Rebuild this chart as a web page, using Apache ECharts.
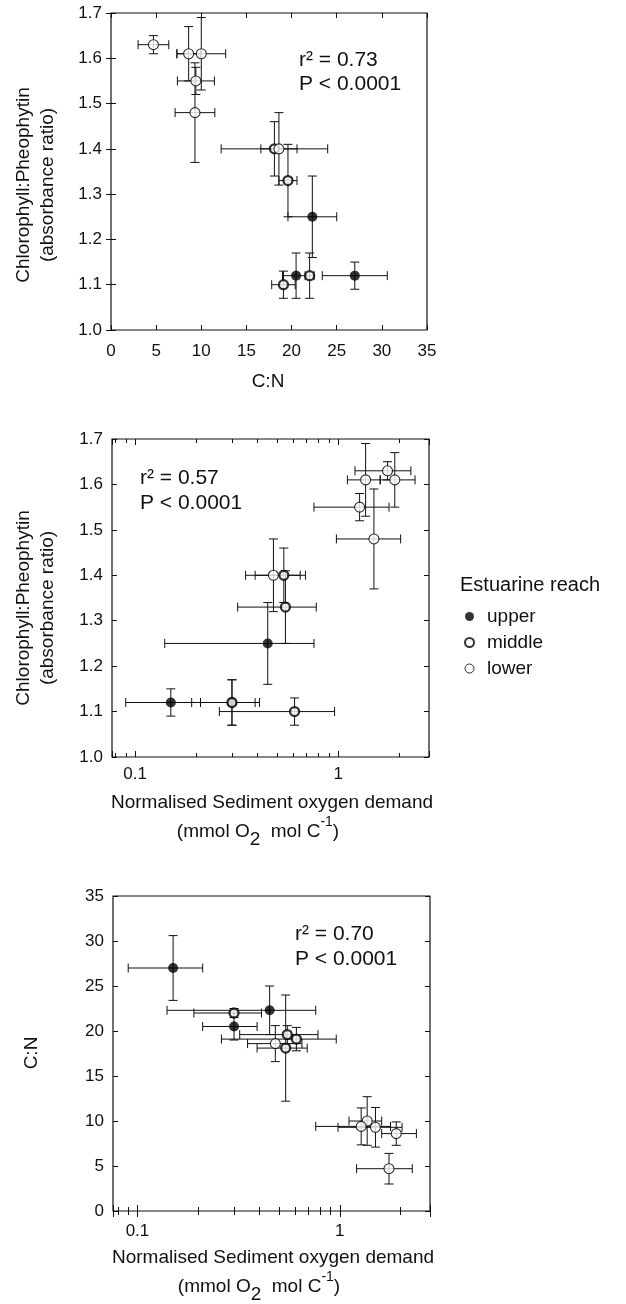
<!DOCTYPE html>
<html>
<head>
<meta charset="utf-8">
<script src="https://cdn.jsdelivr.net/npm/echarts@6/dist/echarts.min.js"></script>
<style>
html,body{margin:0;padding:0;background:#fff;}
#chart{width:626px;height:1304px;}
</style>
</head>
<body>
<div id="chart"></div>
<script>
// ---- data (one entry per sampling site) ----
const reach  = ['lower','lower','lower','lower','lower','middle','lower','middle','upper','upper','middle','upper','middle'];
const cn     = [4.7, 8.6, 10.0, 9.4, 9.3, 18.1, 18.6, 19.6, 22.3, 20.5, 22.0, 27.0, 19.1];
const cnErr  = [1.7, 1.3, 2.7, 2.05, 2.2, 5.9, 2.0, 1.0, 2.7, 1.5, 0.5, 3.6, 1.3];
const chl    = [1.63, 1.61, 1.61, 1.55, 1.48, 1.40, 1.40, 1.33, 1.25, 1.12, 1.12, 1.12, 1.10];
const chlErr = [0.02, 0.06, 0.08, 0.03, 0.11, 0.06, 0.08, 0.08, 0.09, 0.05, 0.05, 0.03, 0.03];
const sod    = [1.75, 1.90, 1.365, 1.275, 1.50, 0.54, 0.48, 0.55, 0.45, 0.30, 0.30, 0.15, 0.61];
const sodLo  = [1.21, 1.61, 1.11, 0.76, 0.98, 0.39, 0.35, 0.32, 0.14, 0.21, 0.19, 0.09, 0.26];
const sodHi  = [2.28, 2.39, 1.61, 1.78, 2.03, 0.69, 0.65, 0.78, 0.76, 0.39, 0.41, 0.21, 0.96];
const reaches = ['upper','middle','lower'];
const stats = [['r\u00B2 = 0.73','P < 0.0001'],['r\u00B2 = 0.57','P < 0.0001'],['r\u00B2 = 0.70','P < 0.0001']];
const chlRange = [1.0, 1.7, 0.1];
const cnRange = [0, 35, 5];
const sodRange = [0.077, 2.8];

const FF = '"Liberation Sans", Arial, Helvetica, sans-serif';
const INK = '#111';

// ---- build per-panel rows: [x, y, xLo, xHi, yLo, yHi] ----
function rows(px, py) {
  return reach.map((r, i) => {
    const p = px(i), q = py(i);
    return {reach: r, v: [p[0], q[0], p[1], p[2], q[1], q[2]]};
  });
}
const fCN  = i => [cn[i], cn[i]-cnErr[i], cn[i]+cnErr[i]];
const fCHL = i => [chl[i], chl[i]-chlErr[i], chl[i]+chlErr[i]];
const fSOD = i => [sod[i], sodLo[i], sodHi[i]];
const panels = [rows(fCN, fCHL), rows(fSOD, fCHL), rows(fSOD, fCN)];

const grids = [
  {left:111, top:13,  width:316, height:317},
  {left:112, top:439, width:317, height:318},
  {left:113, top:896, width:317, height:315}
];

function linAxis(gi, pos, range, showLabel, margin, fmt) {
  return {
    type:'value', gridIndex:gi, position:pos, min:range[0], max:range[1], interval:range[2],
    axisLine:{show:false}, splitLine:{show:false},
    axisTick:{show:true, inside:true, length:5, lineStyle:{color:INK, width:1}},
    axisLabel:{show:showLabel, margin:margin, color:INK, fontSize:17, fontFamily:FF, formatter:fmt}
  };
}
function logAxis(gi, pos, range, showLabel, margin) {
  return {
    type:'log', logBase:10, gridIndex:gi, position:pos, min:range[0], max:range[1],
    axisLine:{show:false}, splitLine:{show:false},
    axisTick:{show:true, inside:true, length:6, lineStyle:{color:INK, width:1}},
    minorTick:{show:true, splitNumber:9, length:4, lineStyle:{color:INK, width:1}},
    axisLabel:{show:showLabel, margin:margin, color:INK, fontSize:17, fontFamily:FF,
      showMinLabel:false, showMaxLabel:false}
  };
}
const fmt1 = v => v.toFixed(1);
const fmt0 = v => String(v);

const xAxis = [
  linAxis(0,'bottom',cnRange,true,13,fmt0), linAxis(0,'top',cnRange,false,8,fmt0),
  logAxis(1,'bottom',sodRange,true,9), logAxis(1,'top',sodRange,false,8),
  logAxis(2,'bottom',[0.0757,2.79],true,12), logAxis(2,'top',[0.0757,2.79],false,8)
];
const yAxis = [
  linAxis(0,'left',chlRange,true,9,fmt1), linAxis(0,'right',chlRange,false,8,fmt1),
  linAxis(1,'left',chlRange,true,9,fmt1), linAxis(1,'right',chlRange,false,8,fmt1),
  linAxis(2,'left',cnRange,true,9,fmt0), linAxis(2,'right',cnRange,false,8,fmt0)
];

function errRender(params, api) {
  const x = api.value(0), y = api.value(1);
  const c = api.coord([x, y]);
  const xl = api.coord([api.value(2), y])[0], xh = api.coord([api.value(3), y])[0];
  const yl = api.coord([x, api.value(4)])[1], yh = api.coord([x, api.value(5)])[1];
  const cap = 4.5;
  const st = {stroke:INK, lineWidth:1, fill:null};
  const L = (x1,y1,x2,y2) => ({type:'line', shape:{x1,y1,x2,y2}, style:st});
  return {type:'group', children:[
    L(xl, c[1], xh, c[1]), L(xl, c[1]-cap, xl, c[1]+cap), L(xh, c[1]-cap, xh, c[1]+cap),
    L(c[0], yl, c[0], yh), L(c[0]-cap, yl, c[0]+cap, yl), L(c[0]-cap, yh, c[0]+cap, yh)
  ]};
}

const markerStyle = {
  upper:  {symbolSize:10, itemStyle:{color:'#000', borderColor:'#000', borderWidth:0}},
  middle: {symbolSize:9, itemStyle:{color:'#fff', borderColor:'#000', borderWidth:2.3}},
  lower:  {symbolSize:10, itemStyle:{color:'#fff', borderColor:'#000', borderWidth:1.1}}
};

const series = [];
panels.forEach((rowsP, gi) => {
  series.push({
    type:'custom', xAxisIndex:gi*2, yAxisIndex:gi*2, silent:true, z:2,
    renderItem:errRender, data: rowsP.map(r => r.v)
  });
  reaches.forEach(name => {
    series.push(Object.assign({
      type:'scatter', name:name, xAxisIndex:gi*2, yAxisIndex:gi*2, symbol:'circle', z:5,
      silent:true,
      data: rowsP.filter(r => r.reach === name).map(r => [r.v[0], r.v[1]])
    }, JSON.parse(JSON.stringify(markerStyle[name]))));
  });
});

function txt(x, y, text, size, extra) {
  return Object.assign({type:'text', x:x, y:y, silent:true,
    style:{text:text, fill:INK, font:size + 'px ' + FF, align:'left', verticalAlign:'middle'}}, extra || {});
}
function rtxt(x, y, text, size) {
  return {type:'text', x:x, y:y, rotation:Math.PI/2, silent:true,
    style:{text:text, fill:INK, font:size + 'px ' + FF, align:'center', verticalAlign:'middle'}};
}
function unitTxt(x, y) {
  return {type:'text', x:x, y:y, silent:true, style:{
    text:'{n|(mmol O}{sub|2}{n|  mol C}{sup|-1}{n|)}', fill:INK, align:'center', verticalAlign:'middle',
    rich:{
      n:{fontSize:19, fontFamily:FF, fill:INK, lineHeight:34, verticalAlign:'middle'},
      sub:{fontSize:19, fontFamily:FF, fill:INK, lineHeight:22, verticalAlign:'bottom'},
      sup:{fontSize:14, fontFamily:FF, fill:INK, lineHeight:18, verticalAlign:'top'}
    }}};
}
function ctxt(x, y, text, size) {
  return {type:'text', x:x, y:y, silent:true,
    style:{text:text, fill:INK, font:size + 'px ' + FF, align:'center', verticalAlign:'middle'}};
}

const graphic = [
  // panel 1
  rtxt(24, 185, 'Chlorophyll:Pheophytin', 19), rtxt(48, 185, '(absorbance ratio)', 19),
  ctxt(268, 382, 'C:N', 19),
  txt(299, 60, stats[0][0], 21), txt(299, 84, stats[0][1], 21),
  // panel 2
  rtxt(24, 608, 'Chlorophyll:Pheophytin', 19), rtxt(48, 608, '(absorbance ratio)', 19),
  ctxt(272, 803, 'Normalised Sediment oxygen demand', 19), unitTxt(258, 832),
  txt(140, 478, stats[1][0], 21), txt(140, 503, stats[1][1], 21),
  // panel 3
  rtxt(32, 1053, 'C:N', 19),
  ctxt(273, 1258, 'Normalised Sediment oxygen demand', 19), unitTxt(259, 1287),
  txt(295, 934, stats[2][0], 21), txt(295, 959, stats[2][1], 21),
  // legend title
  txt(460, 585, 'Estuarine reach', 20)
];

const chart = echarts.init(document.getElementById('chart'), null, {renderer:'canvas'});
chart.setOption({
  animation:false,
  backgroundColor:'#fff',
  grid: grids.map(g => Object.assign({show:true, borderColor:INK, borderWidth:1.2, backgroundColor:'transparent', containLabel:false}, g)),
  xAxis: xAxis,
  yAxis: yAxis,
  legend: {
    orient:'vertical', left:459, top:602, icon:'circle', itemWidth:9, itemHeight:9, itemGap:7,
    selectedMode:false,
    textStyle:{fontSize:19, fontFamily:FF, color:INK, padding:[0,0,0,8]},
    data:[
      {name:'upper', itemStyle:{color:'#000', borderWidth:0}},
      {name:'middle', itemStyle:{color:'#fff', borderColor:'#000', borderWidth:2}},
      {name:'lower', itemStyle:{color:'#fff', borderColor:'#000', borderWidth:1}}
    ]
  },
  graphic: graphic,
  series: series
});
</script>
</body>
</html>
